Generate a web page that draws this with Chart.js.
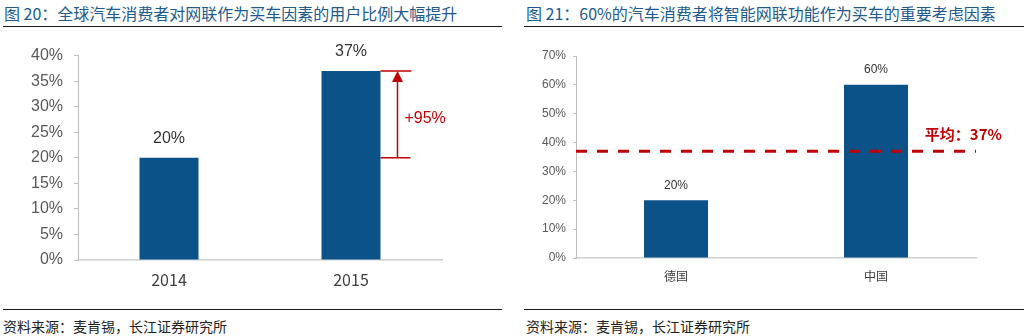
<!DOCTYPE html>
<html>
<head>
<meta charset="utf-8">
<script src="https://cdn.jsdelivr.net/npm/chart.js@4"></script>
<style>
    html, body { margin: 0; padding: 0; background: #fff; }
    body { width: 1027px; height: 336px; position: relative; overflow: hidden; }
    .title {
        position: absolute; top: 2px; height: 22px; line-height: 22px;
        font-family: "Noto Sans CJK SC", sans-serif; font-size: 16px; color: #215a8d;
        white-space: nowrap;
    }
    .rule { position: absolute; height: 0; border-top: 1.5px solid #1a1a1a; }
    .source {
        position: absolute; top: 316px; height: 20px; line-height: 20px;
        font-family: "Noto Sans CJK SC", sans-serif; font-size: 14px; color: #222;
        white-space: nowrap;
    }
    canvas { position: absolute; }
</style>
</head>
<body>
<div class="title" style="left:4px">图 20：全球汽车消费者对网联作为买车因素的用户比例大幅提升</div>
<div class="title" style="left:526px">图 21：60%的汽车消费者将智能网联功能作为买车的重要考虑因素</div>
<div class="rule" style="left:3px; width:499px; top:26px"></div>
<div class="rule" style="left:524px; width:500px; top:26px"></div>

<canvas id="leftChart" width="513" height="260" style="left:0px; top:35px"></canvas>
<canvas id="rightChart" width="513" height="260" style="left:514px; top:40px"></canvas>

<div class="rule" style="left:3px; width:499px; top:309px"></div>
<div class="rule" style="left:524px; width:500px; top:309px"></div>
<div class="source" style="left:3px">资料来源：麦肯锡，长江证券研究所</div>
<div class="source" style="left:526px">资料来源：麦肯锡，长江证券研究所</div>

<script>
// left chart data
const yearsL = ['2014', '2015'];
const shareL = [0.20, 0.37];
const growthLabel = '+95%';

// right chart data
const countriesR = ['德国', '中国'];
const shareR = [0.20, 0.60];
const avgR = 0.37;
const avgLabel = '平均：37%';

const BAR_BLUE = '#0a5288';
const RED = '#c00000';
const TICK_GREY = '#595959';
const AXIS_GREY = '#bfbfbf';
const FONT = 'Arial, "Liberation Sans", sans-serif';

const pct = v => Math.round(v * 100) + '%';

// value labels above each bar
function barLabels(fontSize, gap) {
    return {
        id: 'barLabels',
        afterDatasetsDraw(chart) {
            const ctx = chart.ctx;
            const meta = chart.getDatasetMeta(0);
            const data = chart.data.datasets[0].data;
            ctx.save();
            ctx.font = fontSize + 'px ' + FONT;
            ctx.fillStyle = '#333';
            ctx.textAlign = 'center';
            ctx.textBaseline = 'middle';
            meta.data.forEach((bar, i) => {
                ctx.fillText(pct(data[i]), bar.x, bar.y - gap);
            });
            ctx.restore();
        }
    };
}

// growth arrow between the two bars (left chart)
const growthArrow = {
    id: 'growthArrow',
    afterDatasetsDraw(chart) {
        const ctx = chart.ctx;
        const y = chart.scales.y;
        const bar = chart.getDatasetMeta(0).data[1];
        const barRight = bar.x + bar.width / 2;
        const yTop = y.getPixelForValue(shareL[1]);
        const yBot = y.getPixelForValue(shareL[0]);
        const ax = barRight + 17;
        ctx.save();
        ctx.strokeStyle = RED;
        ctx.fillStyle = RED;
        ctx.lineWidth = 1.5;
        ctx.beginPath();
        ctx.moveTo(barRight, yTop); ctx.lineTo(barRight + 31, yTop);
        ctx.moveTo(barRight, yBot); ctx.lineTo(barRight + 30, yBot);
        ctx.moveTo(ax, yBot); ctx.lineTo(ax, yTop + 8);
        ctx.stroke();
        ctx.beginPath();
        ctx.moveTo(ax, yTop);
        ctx.lineTo(ax - 5.5, yTop + 11);
        ctx.lineTo(ax + 5.5, yTop + 11);
        ctx.closePath();
        ctx.fill();
        ctx.font = '16px ' + FONT;
        ctx.textAlign = 'left';
        ctx.textBaseline = 'middle';
        ctx.fillText(growthLabel, barRight + 24, (yTop + yBot) / 2 + 4);
        ctx.restore();
    }
};

// dashed average line (right chart)
const averageLine = {
    id: 'averageLine',
    afterDatasetsDraw(chart) {
        const ctx = chart.ctx;
        const area = chart.chartArea;
        const yy = chart.scales.y.getPixelForValue(avgR);
        ctx.save();
        ctx.strokeStyle = RED;
        ctx.lineWidth = 3;
        ctx.setLineDash([11, 10]);
        ctx.beginPath();
        ctx.moveTo(area.left, yy);
        ctx.lineTo(area.right, yy);
        ctx.stroke();
        ctx.setLineDash([]);
        ctx.fillStyle = RED;
        ctx.font = 'bold 15px "Noto Sans CJK SC", ' + FONT;
        ctx.textAlign = 'right';
        ctx.textBaseline = 'middle';
        ctx.fillText(avgLabel, area.right + 26, yy - 17);
        ctx.restore();
    }
};

function makeChart(canvasId, opts) {
    return new Chart(document.getElementById(canvasId), {
        type: 'bar',
        data: {
            labels: opts.labels,
            datasets: [{
                data: opts.values,
                backgroundColor: BAR_BLUE,
                borderWidth: 0,
                barPercentage: opts.barPct,
                categoryPercentage: 1
            }]
        },
        options: {
            responsive: false,
            animation: false,
            devicePixelRatio: 1,
            layout: { padding: opts.padding },
            plugins: { legend: { display: false }, tooltip: { enabled: false } },
            scales: {
                x: {
                    grid: { display: false },
                    border: { display: true, color: '#d0d0d0', width: 1.5 },
                    ticks: {
                        color: '#404040',
                        padding: opts.xPad,
                        font: { size: opts.catFont, family: '"Noto Sans CJK SC", ' + FONT }
                    },
                    afterFit(scale) { scale.height = opts.xHeight; }
                },
                y: {
                    min: 0,
                    max: opts.max,
                    grid: { drawOnChartArea: false, drawTicks: true, tickLength: opts.tickLen, color: AXIS_GREY },
                    border: { display: true, color: AXIS_GREY, width: 1 },
                    ticks: {
                        stepSize: opts.step,
                        color: TICK_GREY,
                        padding: opts.yPad,
                        font: { size: opts.tickFont, family: FONT },
                        callback: v => pct(v)
                    },
                    afterFit(scale) { scale.width = opts.yWidth; }
                }
            }
        },
        plugins: opts.plugins
    });
}

makeChart('leftChart', {
    labels: yearsL,
    values: shareL,
    max: 0.4,
    step: 0.05,
    barPct: 0.324,
    padding: { top: 10, right: 71, bottom: 0, left: 0 },
    yWidth: 78,
    xHeight: 35,
    tickLen: 4,
    yPad: 11,
    xPad: 2,
    tickFont: 16,
    catFont: 16,
    plugins: [barLabels(16, 19), growthArrow]
});

makeChart('rightChart', {
    labels: countriesR,
    values: shareR,
    max: 0.7,
    step: 0.1,
    barPct: 0.32,
    padding: { top: 16, right: 51, bottom: 0, left: 0 },
    yWidth: 62,
    xHeight: 42,
    tickLen: 3,
    yPad: 7,
    xPad: 3,
    tickFont: 12,
    catFont: 12,
    plugins: [barLabels(12, 15), averageLine]
});
</script>
</body>
</html>
